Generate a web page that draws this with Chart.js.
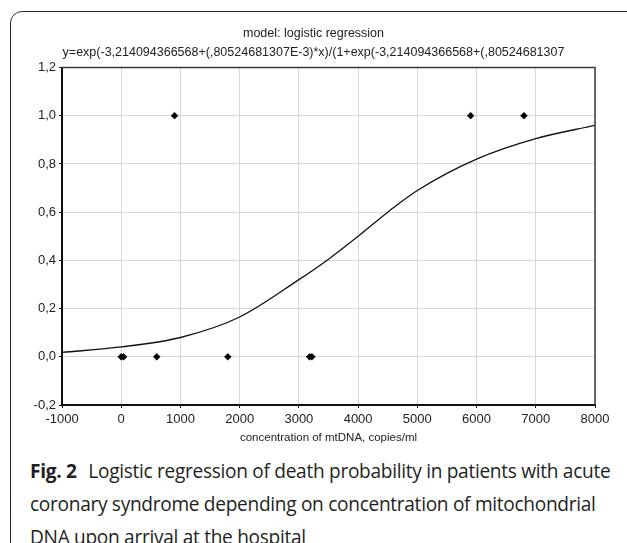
<!DOCTYPE html>
<html>
<head>
<meta charset="utf-8">
<script src="https://cdn.jsdelivr.net/npm/chart.js@4/dist/chart.umd.min.js"></script>
<style>
  html, body { margin: 0; padding: 0; background: #fff; }
  body { width: 627px; height: 543px; position: relative; overflow: hidden; }
  #frame {
    position: absolute; left: 10px; top: 11px; width: 660px; height: 545px;
    border: 1.5px solid #2a2a2a; border-radius: 12px; box-sizing: border-box;
  }
  #box { position: absolute; left: 0; top: 0; width: 627px; height: 450px; }
  #caption {
    position: absolute; left: 30px; top: 455px; width: 600px;
    font-family: "Open Sans", "Noto Sans", sans-serif; font-size: 19.1px;
    line-height: 33px; color: #231f20; letter-spacing: -0.3px;
  }
  #caption b { font-weight: 700; margin-right: 7px; }
</style>
</head>
<body>
<div id="frame"></div>
<div id="box"><canvas id="logit"></canvas></div>
<div id="caption"><b>Fig. 2</b> Logistic regression of death probability in patients with acute<br>coronary syndrome depending on concentration of mitochondrial<br>DNA upon arrival at the hospital</div>
<script>
// observed cases: mtDNA concentration vs outcome (0 = alive, 1 = death)
var obsX = [0, 40, 600, 900, 1800, 3180, 3220, 5900, 6800];
var obsY = [0, 0, 0, 1, 0, 0, 0, 1, 1];

// fitted curve
var curveX = [-1000, 0, 1000, 2000, 3000, 3500, 4000, 4500, 5000, 6000, 7000, 8000];
var curveY = [0.018, 0.041, 0.08, 0.165, 0.32, 0.405, 0.5, 0.6, 0.69, 0.82, 0.905, 0.96];

var xTickLabels = ["-1000","0","1000","2000","3000","4000","5000","6000","7000","8000"];
var yTickLabels = ["-0,2","0,0","0,2","0,4","0,6","0,8","1,0","1,2"];

var titleLines = [
    "model: logistic regression",
    "y=exp(-3,214094366568+(,80524681307E-3)*x)/(1+exp(-3,214094366568+(,80524681307"
];

function pairs(xs, ys) {
    var out = [];
    for (var i = 0; i < xs.length; i++) out.push({x: xs[i], y: ys[i]});
    return out;
}

// top/right border of the plot box
var boxBorder = {
    id: "boxBorder",
    afterDraw: function(chart) {
        var a = chart.chartArea, c = chart.ctx;
        c.save();
        c.strokeStyle = "#3a3a3a";
        c.lineWidth = 1.5;
        c.beginPath();
        c.moveTo(a.left, a.top);
        c.lineTo(a.right, a.top);
        c.lineTo(a.right, a.bottom);
        c.stroke();
        c.restore();
    }
};

Chart.defaults.font.family = "'Liberation Sans', Arial, sans-serif";
Chart.defaults.color = "#222";

new Chart(document.getElementById("logit"), {
    type: "scatter",
    data: {
        datasets: [
            {
                label: "model",
                data: pairs(curveX, curveY),
                showLine: true,
                cubicInterpolationMode: "monotone",
                borderColor: "#111",
                borderWidth: 1.3,
                pointRadius: 0,
                fill: false
            },
            {
                label: "cases",
                data: pairs(obsX, obsY),
                pointStyle: "rectRot",
                pointRadius: 3.4,
                backgroundColor: "#000",
                borderColor: "#000",
                borderWidth: 0.6
            }
        ]
    },
    options: {
        responsive: true,
        maintainAspectRatio: false,
        animation: false,
        layout: { padding: { left: 32, right: 32, top: 0, bottom: 0 } },
        plugins: {
            legend: { display: false },
            tooltip: { enabled: false },
            title: {
                display: true,
                text: titleLines,
                font: { size: 12.5, weight: "normal", lineHeight: 1.5 },
                color: "#222",
                padding: { top: 24, bottom: 6 }
            }
        },
        scales: {
            x: {
                type: "linear",
                min: -1000,
                max: 8000,
                afterFit: function(s) { s.height = 45; },
                ticks: {
                    stepSize: 1000,
                    padding: 4,
                    font: { size: 13 },
                    color: "#222",
                    maxRotation: 0,
                    callback: function(v, i) { return xTickLabels[i]; }
                },
                grid: { color: "#d8d8d8", lineWidth: 1, tickLength: 3, tickColor: "#111" },
                border: { color: "#111", width: 2 },
                title: {
                    display: true,
                    text: "concentration of mtDNA, copies/ml",
                    font: { size: 11.5 },
                    color: "#222",
                    padding: { top: 0, bottom: 5 }
                }
            },
            y: {
                min: -0.2,
                max: 1.2,
                afterFit: function(s) { s.width = 30; },
                ticks: {
                    stepSize: 0.2,
                    padding: 3,
                    font: { size: 13 },
                    color: "#222",
                    callback: function(v, i) { return yTickLabels[i]; }
                },
                grid: { color: "#d8d8d8", lineWidth: 1, tickLength: 3, tickColor: "#111" },
                border: { color: "#111", width: 2 }
            }
        }
    },
    plugins: [boxBorder]
});
</script>
</body>
</html>
